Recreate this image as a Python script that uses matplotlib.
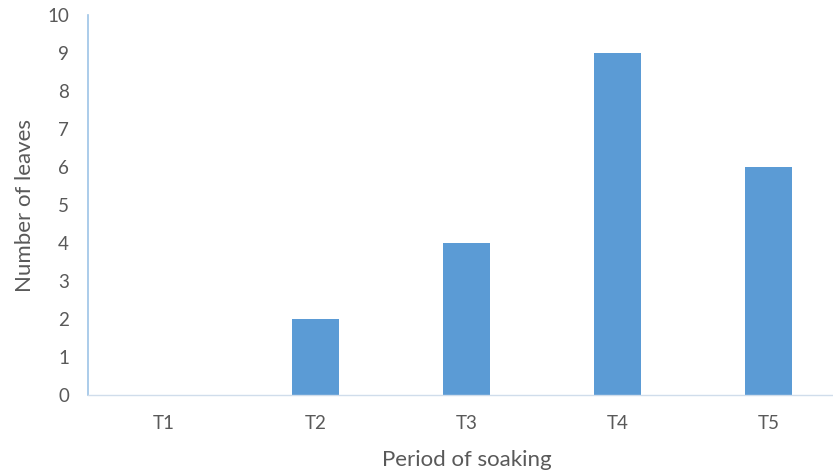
import matplotlib
matplotlib.use('Agg')
import matplotlib.pyplot as plt

categories = ['T1', 'T2', 'T3', 'T4', 'T5']
leaves = [0, 2, 4, 9, 6]

BAR_COLOR = '#5B9BD5'
AXIS_COLOR = '#9DC3E6'
TEXT_COLOR = '#595959'

plt.rcParams['font.family'] = ['Lato', 'DejaVu Sans']

fig = plt.figure(figsize=(8.33, 4.72), dpi=100)
# plot area runs slightly past the right edge of the canvas
ax = fig.add_axes([0.1062, 0.163, 0.9076, 0.805])

x = range(len(categories))
ax.bar(x, leaves, width=0.31, color=BAR_COLOR)

ax.set_xlim(-0.5, len(categories) - 0.5)
ax.set_ylim(0, 10)
ax.set_yticks(range(0, 11))
ax.set_xticks(list(x))
ax.set_xticklabels(categories)

for side in ['top', 'right']:
    ax.spines[side].set_visible(False)
ax.spines['left'].set_color(AXIS_COLOR)
ax.spines['bottom'].set_color('#D0DDEB')
ax.spines['left'].set_linewidth(1.2)
ax.spines['bottom'].set_linewidth(1.0)

ax.tick_params(axis='both', length=0, colors=TEXT_COLOR, labelsize=13.5)
ax.tick_params(axis='y', pad=14)
ax.tick_params(axis='x', pad=14)

ax.set_xlabel('Period of soaking', color=TEXT_COLOR, fontsize=16, labelpad=13)
ax.set_ylabel('Number of leaves', color=TEXT_COLOR, fontsize=16, labelpad=9)

fig.savefig('out.png', dpi=100, facecolor='white')
